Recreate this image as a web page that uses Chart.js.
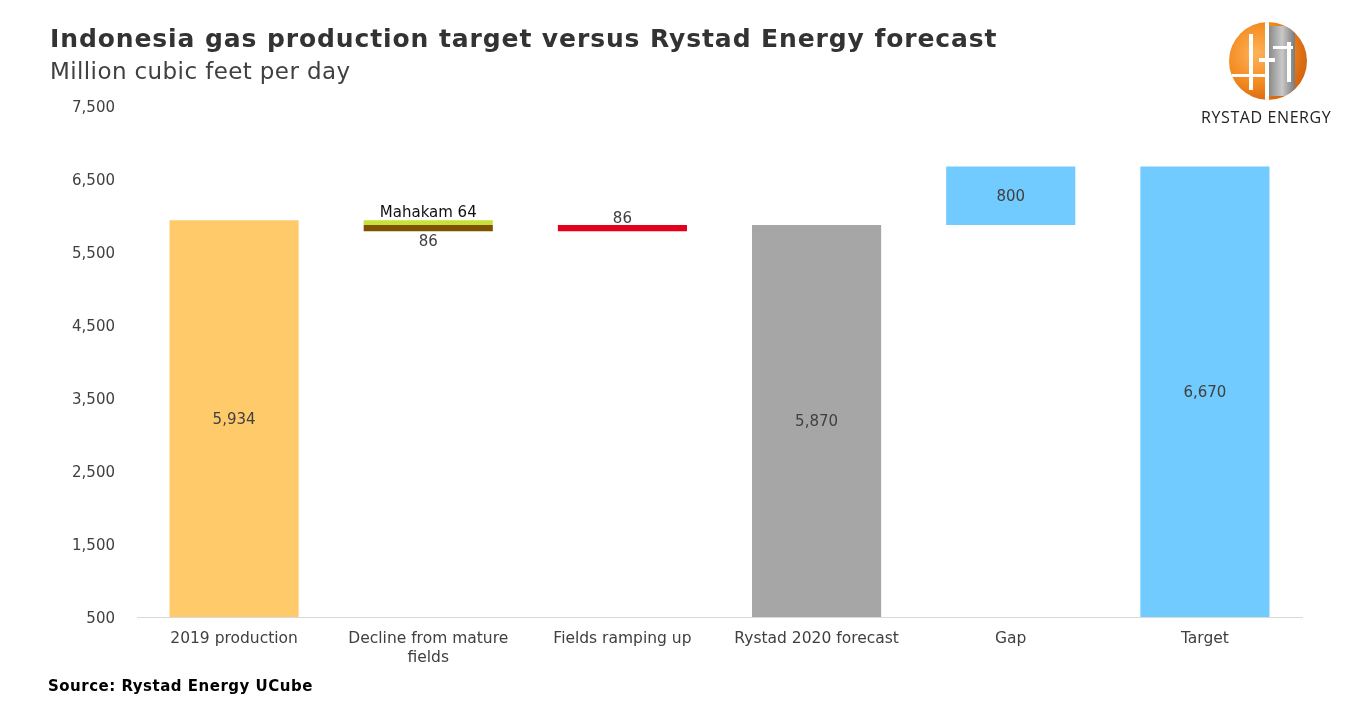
<!DOCTYPE html>
<html>
<head>
<meta charset="utf-8">
<script src="https://cdn.jsdelivr.net/npm/chart.js@4"></script>
<style>
  body { margin: 0; background: #fff; font-family: "DejaVu Sans", Verdana, sans-serif; }
  #wrap { position: relative; width: 1361px; height: 718px; overflow: hidden; }
  #chart { position: absolute; left: 0; top: 0; }
  .txt { position: absolute; white-space: nowrap; color: #333; }
  #title { left: 50px; top: 24px; font-size: 25px; font-weight: bold; letter-spacing: 0.9px; }
  #subtitle { left: 50px; top: 58px; font-size: 23px; color: #404040; letter-spacing: 0.4px; }
  #source { left: 48px; top: 677px; font-size: 15px; font-weight: bold; color: #000; letter-spacing: 0.5px; }
  #globe { position: absolute; left: 1229px; top: 22px; width: 78px; height: 78px; border-radius: 50%;
    background: radial-gradient(circle at 35% 40%, #ffb25a 0%, #f28a1e 45%, #d86a12 70%, #c05a10 100%); overflow: hidden; }
  #globe .g { position: absolute; background: linear-gradient(90deg, #8a8a8a, #c8c8c8, #7a7a7a); }
  #globe .w { position: absolute; background: #fff; }
  #logoText { left: 1201px; top: 106px; font-size: 16px; font-family: "Open Sans", sans-serif; color: #222; letter-spacing: 0.6px; }
</style>
</head>
<body>
<div id="wrap">
  <canvas id="chart" width="1361" height="718"></canvas>
  <div class="txt" id="title">Indonesia gas production target versus Rystad Energy forecast</div>
  <div class="txt" id="subtitle">Million cubic feet per day</div>
  <div class="txt" id="source">Source: Rystad Energy UCube</div>
  <div id="globe">
    <div class="g" style="left:40px;top:4px;width:26px;height:70px;"></div>
    <div class="w" style="left:36px;top:0;width:4px;height:78px;"></div>
    <div class="w" style="left:20px;top:12px;width:4px;height:56px;"></div>
    <div class="w" style="left:58px;top:20px;width:4px;height:40px;"></div>
    <div class="w" style="left:30px;top:36px;width:16px;height:4px;"></div>
    <div class="w" style="left:0;top:52px;width:40px;height:3px;"></div>
    <div class="w" style="left:44px;top:24px;width:20px;height:3px;"></div>
  </div>
  <div class="txt" id="logoText">RYSTAD ENERGY</div>
</div>
<script>
"use strict";

// Data
const categories = ["2019 production", ["Decline from mature", "fields"], "Fields ramping up", "Rystad 2020 forecast", "Gap", "Target"];
const totals = [5934, null, null, 5870, null, 6670]; // full bars
const declineParts = [64, 86]; // Mahakam, other mature fields
const rampUp = [86];
const gapValue = [800];
const yTicks = [500, 1500, 2500, 3500, 4500, 5500, 6500, 7500];

// Build floating ranges from the values
const start = totals[0];
const mahakamLow = start - declineParts[0];
const matureLow = mahakamLow - declineParts[1];
const forecast = totals[3];

const colors = {
  production: "#FFCA6A",
  mahakam: "#C8E03C",
  mature: "#7F5200",
  ramp: "#E3001B",
  forecast: "#A6A6A6",
  blue: "#71CBFF",
};

function onlyAt(index, value) {
  return categories.map((c, i) => (i === index ? value : null));
}

// Labels drawn next to bars: text, position
const datasets = [
  { data: onlyAt(0, [yTicks[0], totals[0]]), backgroundColor: colors.production, lbl: totals[0].toLocaleString("en-US"), pos: "center" },
  { data: onlyAt(1, [mahakamLow, start]), backgroundColor: colors.mahakam, lbl: "Mahakam " + declineParts[0], pos: "above", lblColor: "#111" },
  { data: onlyAt(1, [matureLow, mahakamLow]), backgroundColor: colors.mature, lbl: String(declineParts[1]), pos: "below" },
  { data: onlyAt(2, [forecast - rampUp[0], forecast]), backgroundColor: colors.ramp, lbl: String(rampUp[0]), pos: "above", gap: -2 },
  { data: onlyAt(3, [yTicks[0], totals[3]]), backgroundColor: colors.forecast, lbl: totals[3].toLocaleString("en-US"), pos: "center" },
  { data: onlyAt(4, [forecast, forecast + gapValue[0]]), backgroundColor: colors.blue, lbl: String(gapValue[0]), pos: "center" },
  { data: onlyAt(5, [yTicks[0], totals[5]]), backgroundColor: colors.blue, lbl: totals[5].toLocaleString("en-US"), pos: "center" },
];
datasets.forEach((d) => {
  d.grouped = false;
  d.skipNull = true;
  d.barPercentage = 0.665;
  d.categoryPercentage = 1;
  d.borderWidth = 0;
});

// Plugin to write the value labels
const barLabels = {
  id: "barLabels",
  afterDatasetsDraw(chart) {
    const ctx = chart.ctx;
    ctx.save();
    ctx.font = "15px 'DejaVu Sans', Verdana, sans-serif";
    ctx.textAlign = "center";
    chart.data.datasets.forEach((ds, di) => {
      const meta = chart.getDatasetMeta(di);
      meta.data.forEach((bar, i) => {
        if (ds.data[i] === null) return;
        const top = Math.min(bar.y, bar.base);
        const bottom = Math.max(bar.y, bar.base);
        const gap = ds.gap === undefined ? 0 : ds.gap;
        ctx.fillStyle = ds.lblColor || "#404040";
        let y;
        if (ds.pos === "center") {
          ctx.textBaseline = "middle";
          y = (top + bottom) / 2 + 1;
        } else if (ds.pos === "above") {
          ctx.textBaseline = "bottom";
          y = top - gap;
        } else {
          ctx.textBaseline = "top";
          y = bottom + 3;
        }
        ctx.fillText(ds.lbl, bar.x, y);
      });
    });
    ctx.restore();
  },
};

const ctx = document.getElementById("chart").getContext("2d");
new Chart(ctx, {
  type: "bar",
  data: { labels: categories, datasets: datasets },
  plugins: [barLabels],
  options: {
    responsive: false,
    animation: false,
    layout: { padding: { top: 106, right: 59, bottom: 0, left: 0 } },
    plugins: { legend: { display: false }, tooltip: { enabled: false } },
    scales: {
      x: {
        grid: { display: false, drawTicks: false },
        border: { display: true, color: "#D9D9D9", width: 1 },
        ticks: {
          color: "#404040",
          font: { family: "'DejaVu Sans', Verdana, sans-serif", size: 15.5, lineHeight: 1.25 },
          padding: 12,
          maxRotation: 0,
          autoSkip: false,
        },
        afterFit(scale) { scale.height = 101; },
      },
      y: {
        min: yTicks[0],
        max: yTicks[yTicks.length - 1],
        grid: { display: false, drawTicks: false },
        border: { display: false },
        ticks: {
          stepSize: 1000,
          color: "#404040",
          padding: 22,
          labelOffset: 2,
          font: { family: "'DejaVu Sans', Verdana, sans-serif", size: 15 },
          callback: (v) => v.toLocaleString("en-US"),
        },
        afterFit(scale) { scale.width = 137; },
      },
    },
  },
});
</script>
</body>
</html>
